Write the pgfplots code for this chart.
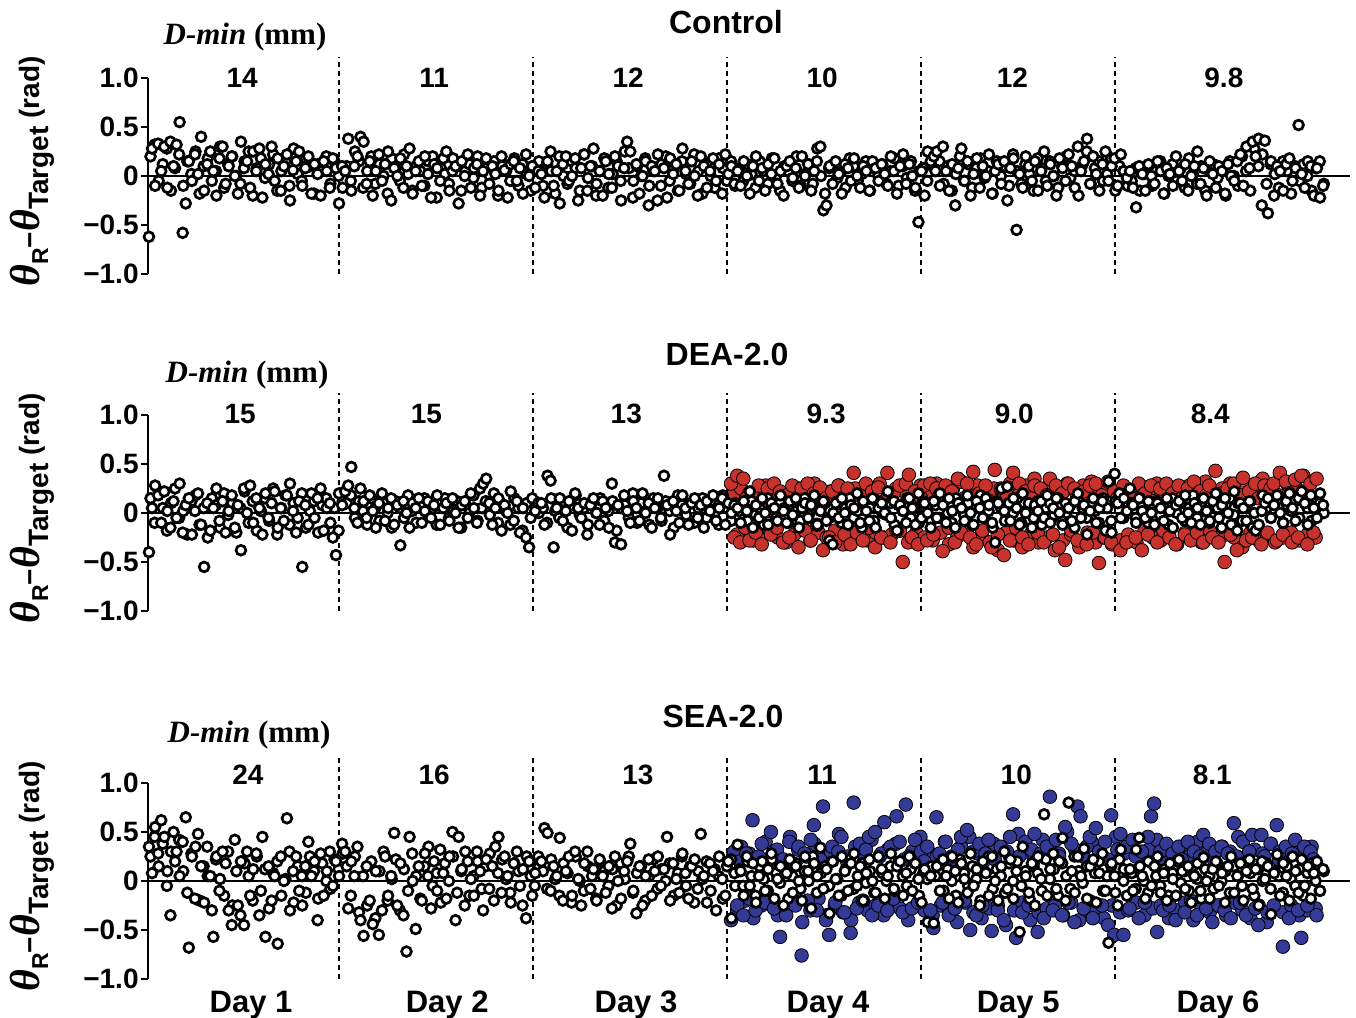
\documentclass[border=0pt]{standalone}
\usepackage{pgfplots}
\pgfplotsset{compat=1.18}
\usepackage{pgfplotstable}
\usepackage{fontspec}
\setmainfont{Liberation Sans}
\newfontfamily\serifbf{Liberation Serif}
\definecolor{dred}{RGB}{200,50,45}
\definecolor{dblue}{RGB}{52,58,150}

% ---------- Control (black) ----------
\pgfplotstableread[row sep=\\]{
y\\
-0.62\\ 0.28\\ -0.10\\ 0.33\\ 0.05\\ 0.30\\ -0.12\\ 0.35\\
0.10\\ 0.32\\ 0.55\\ -0.58\\ -0.28\\ 0.15\\ -0.05\\ 0.22\\
0.02\\ 0.40\\ -0.15\\ 0.12\\ 0.25\\ 0.05\\ -0.20\\ 0.18\\
0.30\\ -0.08\\ 0.10\\ 0.20\\ 0.00\\ -0.18\\ 0.35\\ 0.08\\
0.15\\ -0.12\\ 0.25\\ 0.05\\ 0.28\\ -0.22\\ 0.12\\ 0.02\\
0.30\\ -0.05\\ 0.18\\ -0.15\\ 0.10\\ 0.22\\ -0.25\\ 0.06\\
0.15\\ 0.25\\ -0.10\\ 0.08\\ 0.20\\ -0.18\\ 0.12\\ 0.02\\
-0.20\\ 0.15\\ 0.05\\ -0.12\\ 0.18\\ 0.08\\ -0.28\\ 0.10\\
0.05\\ 0.38\\ -0.15\\ 0.10\\ 0.20\\ 0.40\\ 0.35\\ -0.08\\
0.15\\ -0.20\\ 0.05\\ 0.22\\ -0.05\\ 0.12\\ 0.25\\ -0.25\\
0.08\\ 0.00\\ 0.18\\ -0.12\\ 0.10\\ 0.28\\ -0.18\\ 0.05\\
0.15\\ -0.10\\ 0.20\\ 0.02\\ -0.22\\ 0.12\\ 0.08\\ -0.05\\
0.18\\ 0.25\\ -0.15\\ 0.05\\ 0.10\\ -0.28\\ 0.15\\ 0.00\\
0.22\\ -0.12\\ 0.08\\ 0.12\\ -0.20\\ 0.05\\ 0.18\\ -0.08\\
0.10\\ 0.02\\ -0.15\\ 0.20\\ 0.06\\ -0.22\\ 0.12\\ 0.15\\
-0.05\\ 0.08\\ -0.18\\ 0.22\\ 0.00\\ 0.10\\ -0.12\\ 0.05\\
0.02\\ -0.22\\ 0.15\\ 0.25\\ -0.10\\ 0.05\\ -0.28\\ 0.12\\
0.20\\ -0.05\\ 0.00\\ 0.18\\ -0.25\\ 0.08\\ 0.22\\ -0.15\\
0.10\\ 0.28\\ -0.08\\ 0.05\\ -0.20\\ 0.15\\ 0.02\\ -0.12\\
0.20\\ 0.10\\ -0.25\\ 0.08\\ 0.35\\ 0.25\\ -0.05\\ 0.12\\
-0.18\\ 0.00\\ 0.15\\ -0.30\\ 0.10\\ 0.05\\ 0.22\\ -0.10\\
0.08\\ -0.22\\ 0.18\\ 0.02\\ 0.12\\ -0.15\\ 0.28\\ 0.05\\
-0.08\\ 0.15\\ 0.00\\ -0.20\\ 0.20\\ 0.10\\ -0.12\\ 0.05\\
0.18\\ -0.05\\ 0.12\\ -0.18\\ 0.22\\ 0.02\\ 0.10\\ -0.08\\
0.05\\ -0.10\\ 0.15\\ 0.00\\ -0.18\\ 0.10\\ 0.20\\ -0.05\\
0.08\\ -0.15\\ 0.12\\ 0.02\\ 0.18\\ -0.08\\ 0.05\\ -0.20\\
0.10\\ 0.15\\ -0.02\\ 0.08\\ -0.12\\ 0.20\\ 0.00\\ 0.12\\
-0.15\\ 0.05\\ 0.28\\ 0.30\\ -0.35\\ -0.30\\ 0.10\\ -0.08\\
0.15\\ 0.02\\ -0.18\\ 0.12\\ 0.08\\ -0.05\\ 0.18\\ 0.00\\
-0.12\\ 0.10\\ 0.05\\ -0.15\\ 0.15\\ 0.08\\ -0.05\\ 0.12\\
0.02\\ -0.10\\ 0.20\\ 0.05\\ -0.18\\ 0.10\\ 0.22\\ -0.08\\
0.12\\ 0.00\\ -0.12\\ -0.47\\ 0.05\\ -0.20\\ 0.25\\ 0.15\\
0.20\\ 0.25\\ -0.10\\ 0.30\\ 0.05\\ -0.15\\ 0.12\\ -0.30\\
0.08\\ 0.28\\ -0.05\\ 0.15\\ -0.20\\ 0.02\\ 0.18\\ -0.12\\
0.10\\ 0.00\\ 0.22\\ -0.18\\ 0.05\\ 0.12\\ -0.08\\ 0.15\\
-0.25\\ 0.08\\ 0.18\\ -0.55\\ 0.02\\ -0.12\\ 0.20\\ 0.10\\
-0.05\\ 0.15\\ -0.15\\ 0.05\\ 0.25\\ -0.10\\ 0.12\\ 0.00\\
-0.20\\ 0.18\\ 0.08\\ -0.05\\ 0.22\\ 0.10\\ -0.12\\ 0.30\\
0.05\\ 0.15\\ 0.38\\ -0.08\\ 0.20\\ 0.02\\ -0.15\\ 0.12\\
0.25\\ -0.05\\ 0.10\\ 0.18\\ -0.10\\ 0.22\\ 0.05\\ -0.02\\
0.05\\ -0.12\\ -0.32\\ 0.10\\ 0.02\\ -0.15\\ 0.12\\ 0.00\\
-0.08\\ 0.15\\ 0.05\\ -0.18\\ 0.08\\ 0.02\\ -0.10\\ 0.20\\
0.05\\ -0.05\\ 0.12\\ -0.15\\ 0.00\\ 0.10\\ 0.25\\ -0.08\\
0.08\\ -0.20\\ 0.15\\ 0.02\\ -0.12\\ 0.10\\ 0.05\\ -0.18\\
0.12\\ 0.00\\ -0.05\\ 0.15\\ 0.22\\ -0.10\\ 0.30\\ 0.08\\
0.35\\ 0.20\\ 0.38\\ -0.30\\ 0.36\\ -0.38\\ 0.15\\ -0.20\\
0.10\\ 0.05\\ -0.15\\ 0.12\\ 0.18\\ -0.05\\ 0.08\\ 0.52\\
0.02\\ -0.12\\ 0.15\\ 0.10\\ -0.20\\ 0.08\\ -0.22\\ -0.10\\
}\ctrlB
\pgfplotstableread[row sep=\\]{
y\\
0.20\\ 0.32\\ -0.05\\ 0.12\\ 0.28\\ -0.15\\ 0.08\\ 0.22\\
-0.10\\ 0.15\\ 0.02\\ 0.25\\ -0.18\\ 0.10\\ 0.18\\ -0.05\\
0.05\\ 0.30\\ -0.12\\ 0.12\\ 0.20\\ 0.00\\ -0.08\\ 0.15\\
0.25\\ -0.20\\ 0.08\\ 0.18\\ -0.02\\ 0.12\\ 0.22\\ -0.15\\
0.05\\ 0.15\\ -0.10\\ 0.28\\ 0.02\\ -0.05\\ 0.18\\ 0.10\\
-0.18\\ 0.12\\ 0.05\\ 0.20\\ -0.08\\ 0.15\\ 0.00\\ -0.12\\
0.10\\ -0.05\\ 0.25\\ 0.15\\ -0.12\\ 0.05\\ 0.20\\ -0.08\\
0.12\\ 0.00\\ -0.18\\ 0.18\\ 0.08\\ -0.05\\ 0.22\\ 0.02\\
-0.15\\ 0.10\\ 0.05\\ -0.10\\ 0.15\\ 0.20\\ -0.22\\ 0.08\\
0.02\\ -0.08\\ 0.18\\ 0.10\\ -0.15\\ 0.05\\ 0.12\\ -0.02\\
0.20\\ -0.12\\ 0.08\\ 0.00\\ 0.15\\ -0.20\\ 0.10\\ 0.05\\
-0.05\\ 0.18\\ -0.10\\ 0.12\\ 0.02\\ -0.15\\ 0.08\\ 0.15\\
-0.10\\ 0.12\\ 0.05\\ -0.18\\ 0.20\\ 0.00\\ -0.08\\ 0.15\\
0.08\\ -0.15\\ 0.22\\ -0.02\\ 0.10\\ -0.20\\ 0.05\\ 0.18\\
-0.12\\ 0.02\\ 0.15\\ -0.05\\ 0.25\\ 0.08\\ -0.22\\ 0.10\\
0.00\\ 0.18\\ -0.10\\ 0.05\\ -0.25\\ 0.12\\ 0.20\\ -0.05\\
0.08\\ -0.15\\ 0.15\\ 0.02\\ -0.08\\ 0.22\\ 0.05\\ -0.18\\
0.12\\ 0.00\\ -0.12\\ 0.18\\ 0.08\\ -0.05\\ 0.15\\ -0.10\\
0.08\\ -0.05\\ 0.12\\ 0.02\\ -0.12\\ 0.15\\ 0.05\\ -0.08\\
0.18\\ 0.00\\ -0.15\\ 0.10\\ 0.05\\ -0.05\\ 0.20\\ -0.10\\
0.02\\ 0.12\\ -0.08\\ 0.15\\ 0.00\\ -0.18\\ 0.08\\ 0.12\\
-0.02\\ 0.05\\ -0.12\\ 0.18\\ 0.10\\ -0.05\\ 0.02\\ 0.15\\
-0.15\\ 0.08\\ 0.00\\ 0.12\\ -0.08\\ 0.05\\ 0.18\\ -0.10\\
0.10\\ -0.02\\ 0.15\\ -0.15\\ 0.05\\ 0.08\\ -0.05\\ 0.12\\
0.05\\ 0.15\\ -0.08\\ 0.10\\ -0.15\\ 0.02\\ 0.20\\ -0.05\\
0.12\\ -0.12\\ 0.08\\ 0.18\\ -0.02\\ 0.05\\ -0.18\\ 0.15\\
0.00\\ 0.10\\ -0.10\\ 0.22\\ 0.05\\ -0.08\\ 0.12\\ 0.02\\
-0.15\\ 0.18\\ 0.08\\ -0.05\\ 0.15\\ 0.00\\ -0.12\\ 0.10\\
0.20\\ -0.02\\ 0.05\\ -0.20\\ 0.12\\ 0.25\\ -0.08\\ 0.08\\
0.15\\ -0.05\\ 0.02\\ 0.18\\ -0.15\\ 0.10\\ 0.05\\ -0.10\\
-0.05\\ 0.08\\ -0.15\\ 0.02\\ 0.10\\ -0.10\\ 0.05\\ 0.15\\
-0.18\\ 0.00\\ 0.12\\ -0.05\\ 0.08\\ -0.12\\ 0.18\\ 0.02\\
-0.08\\ 0.10\\ -0.15\\ 0.05\\ 0.12\\ -0.02\\ 0.08\\ -0.20\\
0.15\\ 0.00\\ -0.10\\ 0.20\\ 0.05\\ -0.15\\ 0.28\\ 0.10\\
0.22\\ -0.08\\ 0.12\\ 0.02\\ -0.12\\ 0.15\\ 0.05\\ -0.18\\
0.10\\ -0.05\\ 0.12\\ 0.00\\ -0.15\\ 0.08\\ 0.15\\ -0.08\\
}\ctrlC

% ---------- DEA-2.0 (black) ----------
\pgfplotstableread[row sep=\\]{
y\\
-0.40\\ 0.05\\ 0.28\\ 0.18\\ -0.10\\ 0.22\\ 0.02\\ -0.15\\
0.12\\ -0.05\\ 0.30\\ -0.20\\ 0.08\\ 0.15\\ -0.22\\ 0.02\\
0.20\\ -0.12\\ -0.55\\ 0.10\\ -0.18\\ 0.05\\ 0.25\\ -0.08\\
0.12\\ -0.20\\ 0.02\\ 0.18\\ -0.15\\ 0.08\\ -0.38\\ 0.25\\
0.00\\ 0.28\\ -0.10\\ 0.15\\ 0.05\\ -0.22\\ 0.20\\ -0.05\\
0.10\\ 0.22\\ -0.15\\ 0.05\\ -0.08\\ 0.18\\ 0.30\\ 0.02\\
-0.20\\ 0.12\\ -0.55\\ 0.08\\ -0.12\\ 0.20\\ -0.05\\ 0.15\\
0.25\\ -0.18\\ 0.05\\ 0.10\\ -0.25\\ -0.43\\ 0.20\\ 0.08\\
0.22\\ 0.28\\ 0.47\\ 0.05\\ -0.10\\ 0.25\\ 0.12\\ -0.05\\
0.18\\ 0.02\\ -0.15\\ 0.10\\ 0.20\\ -0.08\\ 0.05\\ 0.15\\
-0.12\\ 0.08\\ -0.33\\ 0.12\\ 0.00\\ -0.15\\ 0.10\\ 0.05\\
0.15\\ -0.10\\ 0.02\\ 0.12\\ -0.05\\ 0.08\\ 0.18\\ -0.12\\
0.05\\ 0.10\\ -0.08\\ 0.15\\ 0.00\\ -0.15\\ 0.08\\ 0.12\\
-0.05\\ 0.20\\ 0.05\\ -0.10\\ 0.25\\ 0.30\\ 0.35\\ 0.10\\
-0.12\\ 0.05\\ 0.15\\ -0.18\\ 0.08\\ 0.00\\ 0.22\\ -0.08\\
0.12\\ -0.20\\ 0.05\\ -0.25\\ -0.35\\ 0.15\\ 0.02\\ 0.10\\
0.10\\ -0.12\\ 0.38\\ 0.33\\ -0.35\\ 0.05\\ 0.15\\ -0.08\\
0.02\\ 0.12\\ -0.18\\ 0.20\\ 0.05\\ -0.05\\ 0.10\\ -0.22\\
0.08\\ 0.15\\ 0.00\\ -0.12\\ 0.12\\ 0.05\\ -0.15\\ 0.30\\
-0.30\\ 0.08\\ -0.32\\ 0.18\\ 0.02\\ -0.10\\ 0.12\\ 0.05\\
-0.08\\ 0.20\\ 0.00\\ 0.10\\ -0.15\\ 0.05\\ 0.15\\ -0.05\\
0.38\\ 0.08\\ -0.22\\ 0.12\\ 0.02\\ -0.10\\ 0.18\\ 0.05\\
-0.12\\ 0.10\\ 0.15\\ -0.05\\ 0.08\\ -0.15\\ 0.12\\ 0.02\\
0.18\\ -0.08\\ 0.05\\ 0.15\\ -0.12\\ 0.10\\ 0.00\\ 0.08\\
0.05\\ -0.10\\ 0.12\\ 0.02\\ 0.22\\ -0.15\\ 0.08\\ -0.05\\
0.15\\ 0.00\\ -0.12\\ 0.10\\ 0.05\\ -0.08\\ 0.18\\ 0.02\\
-0.10\\ 0.12\\ -0.02\\ 0.15\\ -0.15\\ 0.05\\ 0.10\\ -0.05\\
0.08\\ 0.18\\ -0.12\\ 0.02\\ 0.12\\ -0.08\\ -0.28\\ -0.32\\
0.10\\ -0.05\\ 0.15\\ 0.00\\ -0.12\\ 0.08\\ 0.05\\ 0.20\\
-0.10\\ 0.12\\ 0.02\\ -0.08\\ 0.15\\ -0.15\\ 0.05\\ 0.10\\
0.00\\ 0.22\\ -0.05\\ 0.12\\ -0.18\\ 0.08\\ 0.02\\ -0.10\\
0.15\\ 0.05\\ -0.12\\ 0.20\\ -0.05\\ 0.10\\ 0.00\\ -0.15\\
0.12\\ -0.05\\ 0.20\\ 0.08\\ -0.10\\ 0.15\\ 0.02\\ -0.15\\
0.10\\ 0.05\\ -0.08\\ 0.18\\ 0.00\\ -0.12\\ 0.12\\ 0.05\\
-0.05\\ 0.15\\ 0.08\\ -0.10\\ -0.30\\ 0.10\\ 0.25\\ 0.02\\
0.27\\ -0.08\\ 0.15\\ 0.05\\ -0.12\\ 0.20\\ 0.00\\ 0.10\\
-0.15\\ 0.08\\ 0.02\\ 0.12\\ -0.05\\ 0.18\\ -0.10\\ 0.05\\
0.15\\ 0.00\\ -0.12\\ 0.10\\ 0.05\\ -0.08\\ 0.12\\ 0.20\\
-0.05\\ 0.08\\ -0.22\\ 0.02\\ 0.15\\ -0.10\\ 0.05\\ 0.12\\
-0.18\\ 0.32\\ -0.20\\ 0.40\\ 0.10\\ -0.05\\ 0.15\\ 0.02\\
0.25\\ 0.08\\ -0.10\\ 0.15\\ 0.02\\ -0.05\\ 0.12\\ 0.00\\
-0.12\\ 0.10\\ 0.05\\ -0.08\\ 0.15\\ 0.02\\ -0.15\\ 0.08\\
0.12\\ -0.05\\ 0.18\\ 0.00\\ -0.10\\ 0.10\\ 0.05\\ -0.12\\
0.15\\ 0.02\\ -0.08\\ 0.12\\ 0.20\\ -0.05\\ 0.08\\ 0.15\\
0.00\\ -0.12\\ 0.22\\ -0.18\\ 0.10\\ 0.05\\ -0.08\\ 0.12\\
-0.15\\ -0.18\\ -0.12\\ 0.02\\ 0.10\\ 0.15\\ -0.05\\ 0.08\\
0.18\\ 0.00\\ -0.10\\ 0.12\\ 0.20\\ 0.05\\ -0.08\\ 0.15\\
0.22\\ 0.10\\ -0.12\\ 0.18\\ 0.05\\ -0.05\\ 0.20\\ 0.08\\
}\deaB
\pgfplotstableread[row sep=\\]{
y\\
0.15\\ -0.10\\ 0.22\\ 0.05\\ -0.18\\ 0.10\\ 0.25\\ -0.05\\
0.02\\ -0.22\\ 0.12\\ 0.18\\ -0.12\\ 0.05\\ -0.25\\ 0.15\\
0.08\\ -0.15\\ 0.20\\ -0.02\\ 0.10\\ -0.20\\ 0.05\\ 0.22\\
-0.10\\ 0.12\\ -0.18\\ 0.02\\ 0.15\\ -0.08\\ 0.25\\ -0.22\\
0.05\\ 0.18\\ -0.12\\ 0.10\\ -0.05\\ 0.20\\ -0.15\\ 0.02\\
0.12\\ -0.20\\ 0.08\\ 0.15\\ -0.10\\ 0.05\\ -0.18\\ 0.12\\
0.10\\ 0.18\\ -0.05\\ 0.12\\ 0.02\\ -0.12\\ 0.15\\ 0.05\\
-0.08\\ 0.10\\ 0.00\\ -0.15\\ 0.12\\ 0.05\\ -0.05\\ 0.18\\
0.02\\ -0.10\\ 0.08\\ 0.15\\ -0.02\\ 0.05\\ -0.12\\ 0.10\\
0.15\\ -0.05\\ 0.02\\ 0.12\\ -0.15\\ 0.08\\ 0.00\\ 0.18\\
-0.08\\ 0.05\\ 0.12\\ -0.02\\ 0.20\\ -0.10\\ 0.08\\ 0.02\\
-0.12\\ 0.15\\ 0.05\\ -0.18\\ 0.10\\ -0.05\\ 0.12\\ 0.00\\
0.05\\ -0.10\\ 0.15\\ 0.02\\ -0.05\\ 0.12\\ -0.15\\ 0.08\\
0.18\\ -0.02\\ 0.05\\ -0.12\\ 0.10\\ 0.00\\ 0.15\\ -0.08\\
0.02\\ 0.12\\ -0.18\\ 0.05\\ 0.08\\ -0.05\\ 0.20\\ -0.10\\
0.10\\ 0.00\\ -0.12\\ 0.15\\ 0.05\\ -0.08\\ 0.12\\ 0.02\\
-0.15\\ 0.18\\ 0.08\\ -0.02\\ 0.10\\ -0.10\\ 0.05\\ 0.15\\
-0.05\\ 0.12\\ 0.00\\ -0.12\\ 0.18\\ 0.05\\ -0.08\\ 0.10\\
0.02\\ 0.10\\ -0.08\\ 0.12\\ -0.02\\ 0.05\\ -0.12\\ 0.15\\
0.00\\ -0.05\\ 0.10\\ 0.05\\ -0.10\\ 0.12\\ 0.02\\ -0.08\\
0.15\\ -0.02\\ 0.08\\ -0.12\\ 0.05\\ 0.10\\ -0.05\\ 0.00\\
0.12\\ -0.10\\ 0.05\\ 0.15\\ -0.05\\ 0.02\\ -0.15\\ 0.10\\
0.05\\ -0.08\\ 0.12\\ 0.00\\ -0.02\\ 0.10\\ -0.12\\ 0.08\\
0.02\\ 0.15\\ -0.05\\ 0.05\\ -0.10\\ 0.12\\ 0.00\\ -0.08\\
0.08\\ -0.05\\ 0.12\\ 0.00\\ -0.10\\ 0.15\\ 0.05\\ -0.02\\
0.10\\ -0.12\\ 0.05\\ 0.18\\ -0.05\\ 0.02\\ -0.15\\ 0.12\\
0.05\\ -0.08\\ 0.10\\ 0.00\\ 0.15\\ -0.10\\ 0.02\\ 0.08\\
-0.05\\ 0.12\\ -0.12\\ 0.05\\ 0.10\\ -0.02\\ 0.15\\ -0.08\\
0.00\\ 0.08\\ -0.15\\ 0.12\\ 0.05\\ -0.05\\ 0.10\\ 0.02\\
-0.10\\ 0.15\\ 0.05\\ -0.08\\ 0.12\\ 0.20\\ -0.05\\ 0.10\\
0.10\\ -0.05\\ 0.15\\ 0.02\\ -0.10\\ 0.08\\ 0.12\\ -0.02\\
0.05\\ -0.12\\ 0.15\\ 0.00\\ 0.10\\ -0.08\\ 0.05\\ 0.18\\
-0.05\\ 0.10\\ 0.02\\ -0.10\\ 0.12\\ 0.05\\ -0.15\\ 0.08\\
0.15\\ -0.02\\ 0.10\\ -0.08\\ 0.05\\ 0.12\\ 0.00\\ -0.12\\
0.18\\ 0.05\\ -0.05\\ 0.10\\ 0.15\\ -0.10\\ 0.08\\ 0.02\\
0.12\\ -0.05\\ 0.20\\ 0.05\\ -0.08\\ 0.15\\ 0.10\\ 0.00\\
}\deaC

% ---------- DEA-2.0 (red, days 4-6) ----------
\pgfplotstableread[row sep=\\]{
y\\
0.30\\ -0.25\\ 0.38\\ -0.30\\ 0.35\\ 0.15\\ -0.28\\ 0.20\\
-0.20\\ 0.28\\ -0.32\\ 0.10\\ 0.25\\ -0.22\\ 0.30\\ -0.15\\
0.22\\ -0.30\\ 0.18\\ -0.25\\ 0.28\\ 0.05\\ -0.35\\ 0.25\\
-0.18\\ 0.30\\ -0.28\\ 0.20\\ -0.12\\ 0.26\\ -0.38\\ 0.15\\
-0.25\\ 0.22\\ -0.30\\ 0.28\\ 0.10\\ -0.22\\ 0.25\\ -0.32\\
0.41\\ -0.20\\ 0.18\\ -0.28\\ 0.30\\ -0.15\\ 0.22\\ -0.35\\
0.26\\ -0.25\\ 0.12\\ 0.41\\ -0.30\\ 0.20\\ -0.18\\ 0.28\\
-0.50\\ 0.30\\ 0.39\\ -0.25\\ 0.22\\ -0.32\\ 0.15\\ 0.28\\
-0.28\\ 0.30\\ -0.22\\ 0.25\\ 0.18\\ -0.39\\ 0.28\\ -0.15\\
0.22\\ -0.30\\ 0.35\\ -0.20\\ 0.15\\ 0.30\\ -0.25\\ 0.42\\
-0.32\\ 0.20\\ -0.18\\ 0.28\\ 0.12\\ -0.35\\ 0.44\\ -0.22\\
0.25\\ -0.43\\ 0.18\\ -0.28\\ 0.41\\ -0.15\\ 0.30\\ -0.25\\
0.22\\ -0.32\\ 0.15\\ 0.28\\ -0.20\\ 0.25\\ -0.30\\ 0.18\\
0.35\\ -0.22\\ 0.28\\ -0.35\\ 0.20\\ -0.48\\ 0.30\\ -0.18\\
0.25\\ -0.28\\ 0.15\\ 0.22\\ -0.32\\ 0.28\\ -0.20\\ 0.30\\
-0.51\\ 0.18\\ -0.25\\ 0.32\\ -0.30\\ 0.22\\ 0.15\\ -0.38\\
0.28\\ -0.30\\ 0.22\\ 0.15\\ -0.25\\ 0.30\\ -0.38\\ 0.20\\
-0.22\\ 0.28\\ 0.12\\ -0.30\\ 0.25\\ -0.18\\ 0.30\\ -0.25\\
0.20\\ -0.32\\ 0.28\\ 0.15\\ -0.22\\ 0.25\\ -0.28\\ 0.32\\
-0.20\\ 0.22\\ -0.30\\ 0.18\\ 0.28\\ -0.25\\ 0.43\\ -0.30\\
0.20\\ -0.50\\ 0.25\\ -0.22\\ 0.30\\ -0.38\\ 0.18\\ 0.36\\
-0.28\\ 0.22\\ -0.25\\ 0.30\\ 0.15\\ -0.32\\ 0.28\\ -0.20\\
0.25\\ 0.30\\ -0.28\\ 0.41\\ -0.22\\ 0.32\\ 0.20\\ -0.30\\
0.34\\ -0.25\\ 0.38\\ 0.22\\ -0.32\\ 0.30\\ -0.20\\ 0.35\\
}\deaR
\pgfplotstableread[row sep=\\]{
y\\
0.18\\ -0.22\\ 0.25\\ -0.15\\ 0.20\\ -0.28\\ 0.15\\ -0.20\\
0.28\\ -0.18\\ 0.22\\ -0.25\\ 0.12\\ -0.30\\ 0.18\\ -0.22\\
0.25\\ -0.15\\ 0.20\\ -0.28\\ 0.30\\ -0.20\\ 0.15\\ -0.25\\
0.22\\ -0.18\\ 0.28\\ -0.32\\ 0.18\\ -0.22\\ 0.25\\ -0.15\\
0.20\\ -0.28\\ 0.12\\ -0.20\\ 0.30\\ -0.25\\ 0.18\\ -0.22\\
0.25\\ -0.18\\ 0.22\\ -0.30\\ 0.15\\ -0.20\\ 0.28\\ -0.25\\
0.22\\ -0.28\\ 0.30\\ -0.20\\ 0.18\\ -0.32\\ 0.25\\ -0.25\\
0.32\\ -0.18\\ 0.20\\ -0.35\\ 0.28\\ -0.22\\ 0.15\\ -0.30\\
0.25\\ -0.38\\ 0.22\\ -0.20\\ 0.30\\ -0.28\\ 0.18\\ -0.35\\
0.28\\ -0.22\\ 0.35\\ -0.30\\ 0.20\\ -0.25\\ 0.25\\ -0.38\\
0.18\\ -0.28\\ 0.30\\ -0.22\\ 0.22\\ -0.35\\ 0.28\\ -0.20\\
0.32\\ -0.30\\ 0.20\\ -0.25\\ 0.25\\ -0.32\\ 0.18\\ -0.28\\
0.25\\ -0.22\\ 0.18\\ -0.30\\ 0.28\\ -0.18\\ 0.22\\ -0.25\\
0.30\\ -0.28\\ 0.15\\ -0.22\\ 0.25\\ -0.32\\ 0.20\\ -0.20\\
0.28\\ -0.25\\ 0.22\\ -0.30\\ 0.32\\ -0.18\\ 0.18\\ -0.28\\
0.25\\ -0.22\\ 0.30\\ -0.25\\ 0.20\\ -0.35\\ 0.28\\ -0.20\\
0.22\\ -0.28\\ 0.35\\ -0.22\\ 0.25\\ -0.30\\ 0.18\\ -0.25\\
0.30\\ -0.20\\ 0.28\\ -0.28\\ 0.38\\ -0.22\\ 0.32\\ -0.25\\
}\deaS

% ---------- SEA-2.0 (black) ----------
\pgfplotstableread[row sep=\\]{
y\\
0.35\\ 0.08\\ 0.55\\ 0.28\\ 0.62\\ 0.45\\ 0.10\\ -0.35\\
0.50\\ 0.30\\ 0.05\\ 0.40\\ 0.65\\ -0.68\\ 0.25\\ -0.18\\
0.48\\ 0.15\\ -0.22\\ 0.35\\ 0.05\\ -0.57\\ 0.25\\ -0.10\\
0.30\\ 0.18\\ -0.30\\ -0.45\\ 0.42\\ -0.25\\ 0.20\\ -0.45\\
0.30\\ -0.15\\ 0.12\\ 0.28\\ -0.35\\ 0.45\\ -0.57\\ 0.15\\
-0.20\\ 0.05\\ -0.64\\ 0.25\\ 0.00\\ 0.64\\ -0.30\\ 0.10\\
0.25\\ -0.10\\ -0.25\\ 0.15\\ 0.40\\ 0.05\\ 0.20\\ -0.40\\
0.28\\ -0.15\\ 0.10\\ 0.30\\ -0.05\\ 0.20\\ 0.05\\ 0.38\\
0.30\\ -0.28\\ 0.20\\ 0.05\\ 0.35\\ -0.40\\ -0.56\\ 0.15\\
-0.20\\ -0.44\\ 0.10\\ -0.55\\ -0.30\\ 0.25\\ -0.15\\ 0.05\\
0.49\\ -0.25\\ 0.18\\ -0.35\\ -0.72\\ 0.45\\ 0.00\\ -0.49\\
0.15\\ -0.20\\ 0.28\\ 0.05\\ -0.28\\ 0.20\\ -0.10\\ 0.32\\
0.08\\ -0.18\\ 0.25\\ 0.50\\ -0.40\\ 0.45\\ 0.12\\ -0.25\\
0.20\\ 0.02\\ -0.15\\ 0.30\\ 0.10\\ -0.30\\ 0.22\\ -0.08\\
0.15\\ 0.35\\ 0.45\\ -0.12\\ 0.25\\ 0.05\\ -0.22\\ 0.18\\
0.30\\ -0.05\\ 0.12\\ -0.38\\ 0.20\\ -0.15\\ 0.08\\ 0.25\\
0.20\\ 0.54\\ 0.49\\ -0.10\\ 0.15\\ 0.05\\ 0.44\\ -0.20\\
0.10\\ 0.25\\ -0.15\\ 0.30\\ 0.02\\ -0.25\\ 0.18\\ 0.30\\
-0.08\\ 0.12\\ -0.20\\ 0.22\\ 0.05\\ -0.12\\ 0.15\\ -0.28\\
0.25\\ 0.00\\ -0.18\\ 0.10\\ 0.20\\ 0.38\\ -0.10\\ -0.33\\
0.15\\ -0.25\\ 0.05\\ 0.22\\ -0.15\\ 0.10\\ 0.25\\ -0.05\\
0.12\\ 0.45\\ -0.20\\ 0.18\\ 0.02\\ -0.12\\ 0.28\\ 0.08\\
-0.18\\ 0.15\\ 0.22\\ -0.08\\ 0.48\\ 0.05\\ -0.22\\ 0.18\\
0.10\\ -0.30\\ 0.25\\ 0.02\\ -0.15\\ 0.20\\ -0.38\\ 0.08\\
0.37\\ 0.10\\ -0.15\\ 0.25\\ -0.05\\ 0.18\\ -0.22\\ 0.05\\
0.20\\ -0.10\\ 0.12\\ 0.28\\ -0.18\\ 0.02\\ 0.15\\ -0.25\\
0.08\\ 0.22\\ -0.12\\ 0.15\\ 0.00\\ -0.20\\ 0.25\\ 0.10\\
-0.28\\ 0.18\\ 0.05\\ 0.34\\ -0.08\\ 0.12\\ -0.33\\ 0.20\\
0.02\\ -0.15\\ 0.25\\ 0.10\\ -0.10\\ 0.18\\ 0.28\\ -0.05\\
0.15\\ -0.20\\ 0.08\\ 0.22\\ 0.00\\ -0.12\\ 0.25\\ 0.12\\
-0.18\\ 0.05\\ 0.28\\ -0.08\\ 0.15\\ 0.20\\ -0.15\\ 0.08\\
0.25\\ -0.10\\ 0.18\\ 0.02\\ -0.22\\ 0.12\\ -0.42\\ 0.05\\
-0.43\\ 0.15\\ -0.10\\ 0.22\\ 0.05\\ -0.18\\ 0.25\\ 0.10\\
-0.22\\ 0.18\\ 0.02\\ -0.12\\ 0.28\\ -0.05\\ 0.12\\ -0.25\\
0.20\\ 0.08\\ -0.15\\ 0.25\\ 0.00\\ -0.20\\ 0.15\\ 0.30\\
-0.08\\ 0.22\\ -0.18\\ 0.10\\ -0.52\\ 0.35\\ 0.05\\ -0.12\\
0.18\\ -0.25\\ 0.25\\ 0.02\\ 0.68\\ -0.15\\ 0.12\\ 0.28\\
-0.08\\ 0.20\\ 0.44\\ -0.20\\ 0.80\\ 0.10\\ -0.12\\ 0.25\\
0.05\\ 0.33\\ -0.18\\ 0.15\\ 0.22\\ -0.22\\ 0.08\\ 0.28\\
-0.10\\ -0.63\\ 0.18\\ 0.05\\ -0.25\\ 0.32\\ 0.12\\ -0.15\\
0.12\\ -0.10\\ 0.32\\ 0.44\\ 0.05\\ -0.18\\ 0.20\\ -0.05\\
0.15\\ 0.25\\ -0.12\\ 0.08\\ -0.20\\ 0.18\\ 0.02\\ -0.15\\
0.22\\ 0.10\\ -0.08\\ 0.15\\ -0.22\\ 0.05\\ 0.18\\ -0.10\\
0.24\\ 0.00\\ -0.18\\ 0.12\\ 0.20\\ -0.05\\ 0.08\\ -0.22\\
0.15\\ 0.25\\ -0.12\\ 0.05\\ 0.18\\ -0.20\\ 0.10\\ 0.22\\
-0.08\\ 0.12\\ -0.25\\ 0.20\\ 0.02\\ 0.15\\ -0.34\\ 0.08\\
0.27\\ -0.15\\ 0.18\\ 0.05\\ -0.20\\ 0.25\\ 0.10\\ -0.12\\
0.22\\ -0.05\\ 0.15\\ -0.18\\ 0.08\\ 0.20\\ -0.10\\ 0.12\\
}\seaB
\pgfplotstableread[row sep=\\]{
y\\
0.25\\ 0.45\\ 0.15\\ 0.38\\ -0.05\\ 0.30\\ 0.20\\ 0.42\\
0.10\\ -0.12\\ 0.28\\ 0.35\\ -0.20\\ 0.15\\ 0.05\\ -0.30\\
0.22\\ 0.02\\ -0.15\\ 0.30\\ -0.25\\ 0.10\\ -0.35\\ 0.18\\
0.05\\ -0.20\\ 0.25\\ -0.10\\ 0.12\\ -0.28\\ 0.08\\ 0.20\\
-0.15\\ 0.02\\ 0.30\\ -0.22\\ 0.15\\ 0.05\\ -0.12\\ 0.25\\
0.10\\ -0.18\\ 0.18\\ 0.00\\ -0.08\\ 0.22\\ 0.12\\ 0.28\\
0.15\\ -0.15\\ 0.25\\ -0.32\\ 0.05\\ -0.25\\ 0.20\\ -0.38\\
0.10\\ 0.30\\ -0.20\\ 0.02\\ 0.22\\ -0.30\\ 0.12\\ -0.10\\
0.28\\ 0.05\\ -0.18\\ 0.15\\ 0.35\\ -0.05\\ 0.08\\ -0.22\\
0.18\\ 0.00\\ 0.25\\ -0.12\\ 0.10\\ 0.30\\ -0.15\\ 0.05\\
0.20\\ -0.08\\ 0.15\\ 0.28\\ -0.20\\ 0.08\\ 0.22\\ 0.02\\
-0.12\\ 0.18\\ 0.10\\ -0.25\\ 0.25\\ 0.05\\ -0.05\\ 0.15\\
0.10\\ -0.08\\ 0.22\\ 0.02\\ -0.15\\ 0.18\\ 0.08\\ -0.22\\
0.25\\ 0.00\\ -0.10\\ 0.15\\ 0.05\\ -0.18\\ 0.20\\ 0.10\\
-0.05\\ 0.12\\ -0.25\\ 0.18\\ 0.02\\ 0.25\\ -0.12\\ 0.08\\
0.15\\ -0.20\\ 0.05\\ 0.22\\ -0.08\\ 0.12\\ 0.00\\ 0.18\\
-0.15\\ 0.08\\ 0.25\\ -0.05\\ 0.15\\ -0.22\\ 0.10\\ 0.02\\
0.20\\ -0.10\\ 0.12\\ 0.05\\ -0.18\\ 0.15\\ 0.22\\ -0.05\\
0.12\\ -0.05\\ 0.20\\ 0.05\\ -0.15\\ 0.15\\ 0.02\\ -0.10\\
0.22\\ 0.08\\ -0.02\\ 0.12\\ -0.18\\ 0.05\\ 0.18\\ -0.08\\
0.10\\ 0.00\\ 0.25\\ -0.12\\ 0.08\\ 0.15\\ -0.05\\ 0.20\\
0.02\\ -0.15\\ 0.12\\ 0.22\\ -0.08\\ 0.05\\ 0.18\\ -0.02\\
0.10\\ -0.12\\ 0.25\\ 0.08\\ 0.00\\ 0.15\\ -0.10\\ 0.20\\
0.05\\ -0.05\\ 0.12\\ 0.18\\ -0.15\\ 0.08\\ 0.02\\ 0.15\\
0.05\\ 0.18\\ -0.10\\ 0.12\\ 0.00\\ -0.15\\ 0.22\\ 0.08\\
-0.05\\ 0.15\\ 0.02\\ -0.20\\ 0.10\\ 0.25\\ -0.08\\ 0.12\\
0.05\\ -0.12\\ 0.18\\ 0.00\\ 0.20\\ -0.05\\ 0.10\\ -0.18\\
0.15\\ 0.08\\ -0.10\\ 0.22\\ 0.02\\ 0.12\\ -0.15\\ 0.18\\
0.05\\ -0.08\\ 0.25\\ 0.10\\ -0.02\\ 0.15\\ -0.20\\ 0.08\\
0.20\\ -0.10\\ 0.05\\ 0.15\\ -0.12\\ 0.22\\ 0.00\\ 0.10\\
0.08\\ -0.08\\ 0.15\\ 0.00\\ -0.12\\ 0.18\\ 0.05\\ -0.05\\
0.12\\ -0.15\\ 0.08\\ 0.20\\ -0.02\\ 0.10\\ -0.10\\ 0.15\\
0.02\\ -0.18\\ 0.12\\ 0.05\\ -0.08\\ 0.18\\ 0.00\\ 0.10\\
-0.12\\ 0.15\\ 0.05\\ -0.05\\ 0.20\\ 0.08\\ -0.15\\ 0.12\\
0.00\\ 0.18\\ -0.08\\ 0.10\\ 0.05\\ -0.12\\ 0.15\\ 0.02\\
-0.05\\ 0.12\\ -0.15\\ 0.08\\ 0.18\\ 0.00\\ -0.10\\ 0.10\\
}\seaD

% ---------- SEA-2.0 (blue, days 4-6) ----------
\pgfplotstableread[row sep=\\]{
y\\
-0.40\\ 0.30\\ -0.25\\ 0.20\\ -0.35\\ 0.28\\ -0.18\\ 0.62\\
-0.30\\ 0.25\\ 0.38\\ -0.22\\ 0.15\\ 0.50\\ -0.28\\ 0.32\\
-0.57\\ 0.22\\ -0.35\\ 0.40\\ 0.18\\ -0.25\\ 0.35\\ -0.76\\
0.28\\ -0.20\\ 0.42\\ 0.57\\ -0.30\\ 0.22\\ 0.76\\ -0.40\\
-0.55\\ 0.35\\ -0.22\\ 0.30\\ 0.45\\ -0.32\\ 0.25\\ -0.53\\
0.80\\ -0.28\\ 0.38\\ -0.20\\ 0.32\\ 0.45\\ -0.35\\ 0.50\\
-0.25\\ 0.28\\ 0.60\\ -0.30\\ 0.35\\ -0.18\\ 0.66\\ 0.40\\
-0.32\\ 0.78\\ 0.25\\ -0.28\\ 0.42\\ -0.22\\ 0.30\\ 0.20\\
0.35\\ -0.30\\ -0.48\\ 0.65\\ 0.28\\ -0.22\\ 0.40\\ -0.35\\
0.25\\ -0.28\\ 0.32\\ 0.45\\ -0.20\\ 0.52\\ -0.50\\ 0.30\\
-0.35\\ 0.38\\ -0.25\\ 0.28\\ 0.42\\ -0.51\\ 0.22\\ -0.30\\
0.35\\ -0.40\\ 0.30\\ 0.45\\ 0.68\\ -0.58\\ 0.25\\ -0.32\\
0.40\\ -0.25\\ 0.32\\ 0.48\\ -0.52\\ 0.28\\ -0.38\\ 0.35\\
0.86\\ -0.30\\ 0.42\\ 0.25\\ -0.35\\ 0.55\\ -0.22\\ 0.38\\
-0.42\\ 0.76\\ 0.66\\ -0.28\\ 0.35\\ 0.45\\ -0.38\\ 0.54\\
0.30\\ -0.25\\ 0.40\\ -0.45\\ 0.67\\ -0.55\\ 0.32\\ 0.48\\
-0.55\\ 0.35\\ -0.28\\ 0.42\\ 0.25\\ -0.38\\ 0.30\\ -0.22\\
0.45\\ 0.66\\ 0.79\\ -0.52\\ 0.30\\ -0.30\\ 0.38\\ -0.25\\
0.28\\ -0.40\\ 0.35\\ 0.22\\ -0.32\\ 0.40\\ -0.20\\ 0.30\\
-0.35\\ 0.25\\ 0.47\\ -0.28\\ 0.38\\ -0.42\\ 0.30\\ -0.25\\
0.35\\ -0.30\\ 0.28\\ -0.38\\ 0.59\\ 0.25\\ -0.22\\ 0.40\\
-0.35\\ 0.30\\ 0.47\\ -0.28\\ -0.45\\ 0.47\\ 0.25\\ -0.32\\
0.38\\ -0.25\\ 0.57\\ 0.30\\ -0.67\\ 0.35\\ -0.38\\ 0.28\\
0.42\\ -0.30\\ -0.58\\ 0.35\\ -0.25\\ 0.30\\ 0.22\\ -0.35\\
}\seaC
\pgfplotstableread[row sep=\\]{
y\\
0.25\\ -0.30\\ 0.35\\ -0.20\\ 0.28\\ -0.38\\ 0.20\\ -0.25\\
0.40\\ -0.22\\ 0.30\\ -0.35\\ 0.18\\ -0.28\\ 0.45\\ -0.20\\
0.32\\ -0.42\\ 0.25\\ -0.30\\ 0.38\\ -0.18\\ 0.22\\ -0.35\\
0.30\\ -0.25\\ 0.48\\ -0.32\\ 0.20\\ -0.40\\ 0.35\\ -0.22\\
0.28\\ -0.30\\ 0.42\\ -0.25\\ 0.25\\ -0.35\\ 0.32\\ -0.20\\
0.38\\ -0.28\\ 0.22\\ -0.40\\ 0.30\\ -0.25\\ 0.45\\ -0.30\\
0.30\\ -0.35\\ 0.25\\ -0.25\\ 0.40\\ -0.30\\ 0.20\\ -0.42\\
0.35\\ -0.22\\ 0.45\\ -0.32\\ 0.28\\ -0.38\\ 0.22\\ -0.28\\
0.38\\ -0.25\\ 0.32\\ -0.45\\ 0.25\\ -0.30\\ 0.48\\ -0.22\\
0.30\\ -0.40\\ 0.22\\ -0.32\\ 0.42\\ -0.28\\ 0.35\\ -0.25\\
0.28\\ -0.35\\ 0.50\\ -0.22\\ 0.32\\ -0.40\\ 0.25\\ -0.30\\
0.40\\ -0.28\\ 0.30\\ -0.38\\ 0.22\\ -0.25\\ 0.45\\ -0.32\\
0.28\\ -0.30\\ 0.38\\ -0.22\\ 0.25\\ -0.35\\ 0.32\\ -0.28\\
0.42\\ -0.25\\ 0.22\\ -0.38\\ 0.30\\ -0.30\\ 0.35\\ -0.22\\
0.25\\ -0.40\\ 0.40\\ -0.28\\ 0.28\\ -0.32\\ 0.22\\ -0.25\\
0.35\\ -0.35\\ 0.30\\ -0.22\\ 0.45\\ -0.30\\ 0.25\\ -0.38\\
0.32\\ -0.25\\ 0.28\\ -0.42\\ 0.38\\ -0.28\\ 0.22\\ -0.32\\
0.30\\ -0.25\\ 0.40\\ -0.35\\ 0.25\\ -0.30\\ 0.35\\ -0.28\\
}\seaE

\pgfplotsset{
  panel/.style={
    scale only axis, width=601pt, height=98pt,
    xmin=0.015, xmax=6.21, ymin=-1, ymax=1,
    axis y line*=left, axis x line=none,
    axis line style={-, line width=1pt},
    ytick={-1,-0.5,0,0.5,1},
    yticklabels={\textbf{−1.0},\textbf{−0.5},\textbf{0},\textbf{0.5},\textbf{1.0}},
    yticklabel style={font=\fontsize{14}{14}\selectfont\bfseries, inner sep=1pt},
    tick align=outside, major tick length=3.5pt,
    every tick/.style={black, line width=1pt},
    clip=false, anchor=south west,
  },
  blk/.style={only marks, mark=*, mark size=2.45pt,
    mark options={fill=white, draw=black, line width=1.35pt}},
  col/.style={only marks, mark=*, mark size=3.4pt,
    mark options={fill=#1, draw=none}},
}
\newcommand{\thetab}{{\serifbf\fontsize{21}{21}\selectfont\bfseries\itshape θ}}
\newcommand{\ylab}{\fontsize{14}{14}\selectfont\bfseries\thetab\raisebox{-4.5pt}{\fontsize{11.5}{11.5}\selectfont R}−\thetab\raisebox{-4.5pt}{Target} (rad)}
\newcommand{\dmin}{{\serifbf\fontsize{15.5}{15.5}\selectfont\bfseries\itshape D-min \upshape(mm)}}
\newcommand{\nfont}{\fontsize{14}{14}\selectfont\bfseries}
\newcommand{\tfont}{\fontsize{16}{16}\selectfont\bfseries}
\newcommand{\dfont}{\fontsize{15.5}{15.5}\selectfont\bfseries}

\begin{document}
\begin{tikzpicture}
\useasboundingbox (0,0) rectangle (678pt,509pt);

% ===== Panel 1: Control =====
\begin{axis}[panel, at={(74pt,372pt)}]
  \draw[line width=1pt] (axis cs:0.015,0) -- (axis cs:6.21,0);
  \pgfplotsinvokeforeach{1,2,3,4,5}{
    \draw[line width=0.8pt, dash pattern=on 2.5pt off 2pt] (axis cs:#1,-1) -- (axis cs:#1,1.21);}
  \addplot[blk] table[x expr={0.028+\coordindex*0.02107}, y=y] {\ctrlC};
  \addplot[blk] table[x expr={0.02+\coordindex*0.0158}, y=y] {\ctrlB};
  \node[font=\nfont] at (axis cs:0.50,1.0) {14};
  \node[font=\nfont] at (axis cs:1.49,1.0) {11};
  \node[font=\nfont] at (axis cs:2.49,1.0) {12};
  \node[font=\nfont] at (axis cs:3.49,1.0) {10};
  \node[font=\nfont] at (axis cs:4.47,1.0) {12};
  \node[font=\nfont] at (axis cs:5.56,1.0) {9.8};
\end{axis}

% ===== Panel 2: DEA-2.0 =====
\begin{axis}[panel, at={(74pt,203.5pt)}]
  \draw[line width=1pt] (axis cs:0.015,0) -- (axis cs:6.21,0);
  \pgfplotsinvokeforeach{1,2,3,4,5}{
    \draw[line width=0.8pt, dash pattern=on 2.5pt off 2pt] (axis cs:#1,-1) -- (axis cs:#1,1.22);}
  \addplot[col=dred] table[x expr={3.03+\coordindex*0.021}, y=y] {\deaS};
  \addplot[col=dred] table[x expr={3.02+\coordindex*0.0158}, y=y] {\deaR};
  \addplot[blk] table[x expr={0.028+\coordindex*0.02107}, y=y] {\deaC};
  \addplot[blk] table[x expr={0.02+\coordindex*0.0158}, y=y] {\deaB};
  \node[font=\nfont] at (axis cs:0.49,1.01) {15};
  \node[font=\nfont] at (axis cs:1.45,1.01) {15};
  \node[font=\nfont] at (axis cs:2.48,1.01) {13};
  \node[font=\nfont] at (axis cs:3.51,1.01) {9.3};
  \node[font=\nfont] at (axis cs:4.48,1.01) {9.0};
  \node[font=\nfont] at (axis cs:5.49,1.01) {8.4};
\end{axis}

% ===== Panel 3: SEA-2.0 =====
\begin{axis}[panel, at={(74pt,19.5pt)}, axis x line*=bottom, xtick=\empty]
  \draw[line width=1pt] (axis cs:0.015,0) -- (axis cs:6.21,0);
  \pgfplotsinvokeforeach{1,2,3,4,5}{
    \draw[line width=0.8pt, dash pattern=on 2.5pt off 2pt] (axis cs:#1,-1) -- (axis cs:#1,1.27);}
  \addplot[col=dblue] table[x expr={3.03+\coordindex*0.021}, y=y] {\seaE};
  \addplot[col=dblue] table[x expr={3.02+\coordindex*0.0158}, y=y] {\seaC};
  \addplot[blk] table[x expr={0.028+\coordindex*0.02107}, y=y] {\seaD};
  \addplot[blk] table[x expr={0.02+\coordindex*0.0158}, y=y] {\seaB};
  \node[font=\nfont] at (axis cs:0.53,1.08) {24};
  \node[font=\nfont] at (axis cs:1.49,1.08) {16};
  \node[font=\nfont] at (axis cs:2.54,1.08) {13};
  \node[font=\nfont] at (axis cs:3.49,1.08) {11};
  \node[font=\nfont] at (axis cs:4.49,1.08) {10};
  \node[font=\nfont] at (axis cs:5.50,1.08) {8.1};
  \node[font=\dfont, anchor=base] at (axis cs:0.546,-1) [yshift=-16.5pt] {Day 1};
  \node[font=\dfont, anchor=base] at (axis cs:1.557,-1) [yshift=-16.5pt] {Day 2};
  \node[font=\dfont, anchor=base] at (axis cs:2.53,-1) [yshift=-16.5pt] {Day 3};
  \node[font=\dfont, anchor=base] at (axis cs:3.52,-1) [yshift=-16.5pt] {Day 4};
  \node[font=\dfont, anchor=base] at (axis cs:4.50,-1) [yshift=-16.5pt] {Day 5};
  \node[font=\dfont, anchor=base] at (axis cs:5.53,-1) [yshift=-16.5pt] {Day 6};
\end{axis}

% ===== titles, D-min headers, y labels =====
\node[font=\tfont] at (363pt,498pt) {Control};
\node[font=\tfont] at (363.5pt,332pt) {DEA-2.0};
\node[font=\tfont] at (361.5pt,151pt) {SEA-2.0};
\node at (122.5pt,490.5pt) {\dmin};
\node at (123.5pt,321.5pt) {\dmin};
\node at (124.5pt,141.5pt) {\dmin};
\node[rotate=90, inner sep=0pt] at (16pt,423.25pt) {\ylab};
\node[rotate=90, inner sep=0pt] at (16pt,254.75pt) {\ylab};
\node[rotate=90, inner sep=0pt] at (16pt,70.75pt) {\ylab};
\end{tikzpicture}
\end{document}
